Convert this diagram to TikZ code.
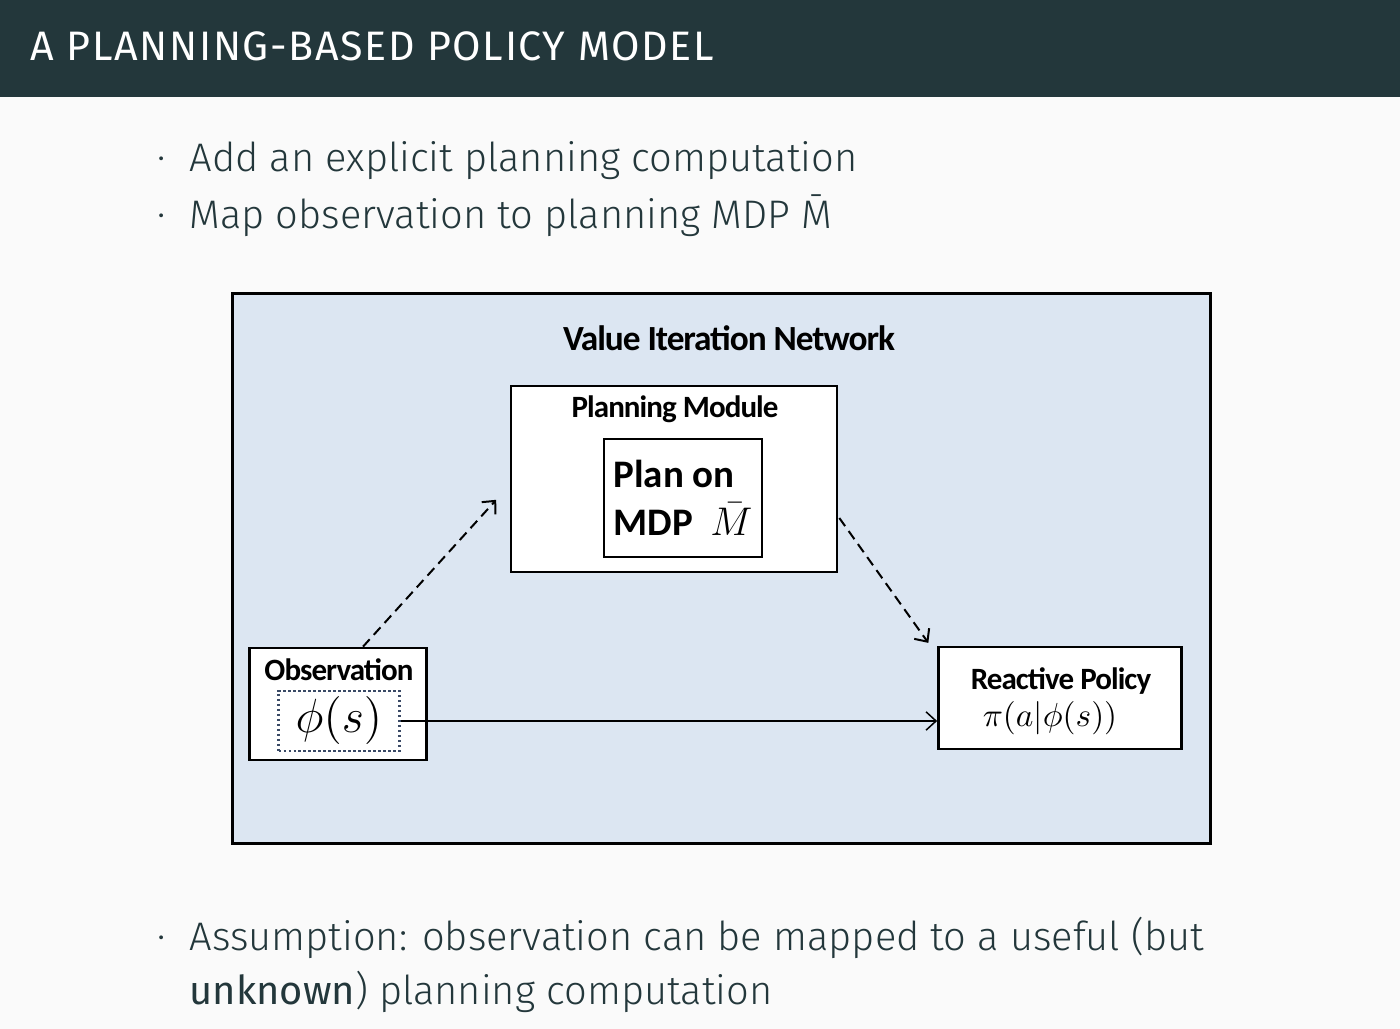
\documentclass[tikz,border=0pt]{standalone}
\usepackage{fontspec}
\setmainfont{Fira Sans Light}[BoldFont={Fira Sans}]
\newfontfamily\titlefont{Fira Sans}[LetterSpace=4]
\newfontfamily\calibri{Carlito}[LetterSpace=-3]
\newfontfamily\calibriwide{Carlito}
\usetikzlibrary{arrows.meta,positioning,calc}
\definecolor{TitleBar}{HTML}{23373B}
\definecolor{SlideBg}{HTML}{FAFAFA}
\definecolor{VinBlue}{HTML}{DCE6F2}
\definecolor{DotBlue}{HTML}{3A4A66}
\newdimen\pxu \pxu=0.3pt

\begin{document}
\begin{tikzpicture}[
  x=0.3pt, y=-0.3pt,
  box/.style={draw=black, line width=0.8pt, fill=white, inner sep=0pt},
  lbl/.style={font=\calibri\bfseries\fontsize{9.3}{11}\selectfont, inner sep=0pt},
  bullet/.style={anchor=base west, text=TitleBar, inner sep=0pt, font=\fontsize{11.95}{14}\selectfont},
  arr/.style={-{Straight Barb[length=3pt,width=5.5pt]}, line width=0.45pt},
  dasharr/.style={arr, line width=0.6pt, dash pattern=on 3pt off 1.8pt}
]
\useasboundingbox (0,0) rectangle (1400,1029);
% slide background and title bar
\fill[SlideBg] (0,0) rectangle (1400,1029);
\fill[TitleBar] (0,0) rectangle (1400,97);
\node[anchor=base west, text=white, inner sep=0pt, font=\titlefont\fontsize{12.35}{14}\selectfont] (title) at (30,61) {A PLANNING-BASED POLICY MODEL};

% bullets on top
\node[bullet] (dot1) at (157,172) {·};
\node[bullet] (b1) at (189,172) {Add an explicit planning computation};
\node[bullet] (dot2) at (157,228) {·};
\node[bullet] (b2) at (189,228) {Map observation to planning MDP M̄};

% the network
\node[box, fill=VinBlue, line width=0.9pt, minimum width=978\pxu, minimum height=550\pxu] (vin) at (721,568) {};
\node[lbl, font=\calibri\bfseries\fontsize{10.6}{12}\selectfont] (vintitle) at (729,338) {Value Iteration Network};

\node[box, minimum width=326\pxu, minimum height=186\pxu] (plan) at (674,479) {};
\node[lbl] (plantitle) at (675,409) {Planning Module};
\node[box, minimum width=158\pxu, minimum height=118\pxu, align=left, font=\calibriwide\bfseries\fontsize{11.7}{13.5}\selectfont] (mdp) at (683,498) {Plan on\\[1pt]MDP \ $\bar{M}$};

\node[box, minimum width=177\pxu, minimum height=112\pxu] (obs) at (338,704) {};
\node[lbl] (obstitle) at (339,670) {Observation};
\node[draw=DotBlue, line width=0.7pt, dash pattern=on 0.7pt off 0.8pt, minimum width=121\pxu, minimum height=60\pxu, inner sep=0pt, font=\fontsize{14}{16}\selectfont] (phi) at (339,721) {$\phi(s)$};

\node[box, minimum width=243\pxu, minimum height=102\pxu] (rp) at (1060,698) {};
\node[lbl] (rptitle) at (1061,681) {Reactive Policy};
\node[inner sep=0pt, font=\fontsize{9.8}{11}\selectfont] (rpmath) at (1050,718) {$\pi(a|\phi(s))$};

\draw[arr] (phi.east) -- (phi.east -| rp.west);
\draw[dasharr, shorten >=6pt] ($(obs.north)+(25,0)$) -- ($(plan.west)+(0,6)$);
\draw[dasharr, shorten >=2.5pt] ($(plan.east)+(1,39)$) -- ($(rp.north west)+(-4,4)$);

% bottom bullet
\node[bullet] (dot3) at (157,950) {·};
\node[bullet] (b3) at (189,950) {Assumption: observation can be mapped to a useful (but};
\node[bullet] (b4) at (189,1004) {\textbf{unknown}) planning computation};
\end{tikzpicture}
\end{document}
